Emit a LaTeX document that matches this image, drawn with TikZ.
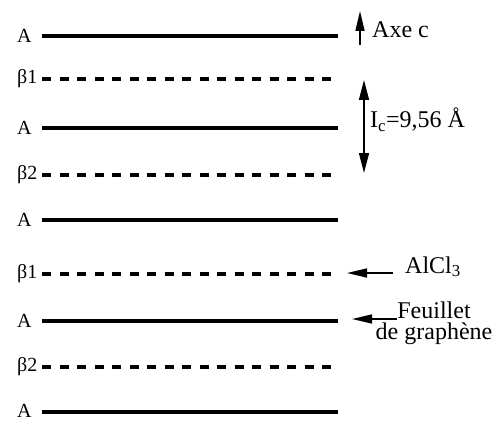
\documentclass[tikz,border=0pt]{standalone}
\usepackage{fontspec}
\setmainfont{Liberation Serif}
\usetikzlibrary{arrows.meta}

\tikzset{
  lab/.style={inner sep=0pt,font=\fontsize{20}{22}\selectfont},
  leg/.style={inner sep=0pt,font=\fontsize{24}{21}\selectfont},
  plein/.style={line width=3.6pt},
  tiret/.style={line width=3.2pt,dash pattern=on 9pt off 8.5pt},
  fl/.style={-{Triangle[length=20pt,width=9pt]},line width=1.6pt},
  dfl/.style={{Triangle[length=20pt,width=10pt]}-{Triangle[length=20pt,width=10pt]},line width=1.6pt},
}

\begin{document}
\begin{tikzpicture}[x=1pt,y=-1pt]
\useasboundingbox (0,0) rectangle (502,422);
% couches
\node[lab,anchor=west] (n0) at (17,36) {A};
\node[lab,anchor=west] (n1) at (17,79) {β1};
\node[lab,anchor=west] (n2) at (17,128) {A};
\node[lab,anchor=west] (n3) at (17,175) {β2};
\node[lab,anchor=west] (n4) at (17,220) {A};
\node[lab,anchor=west] (n5) at (17,274) {β1};
\node[lab,anchor=west] (n6) at (17,321) {A};
\node[lab,anchor=west] (n7) at (17,367) {β2};
\node[lab,anchor=west] (n8) at (17,411) {A};
\coordinate (g0) at (42,36);  \coordinate (d0) at (338,36);
\coordinate (g1) at (42,79);  \coordinate (d1) at (338,79);
\coordinate (g2) at (42,128); \coordinate (d2) at (338,128);
\coordinate (g3) at (42,175); \coordinate (d3) at (338,175);
\coordinate (g4) at (42,220); \coordinate (d4) at (338,220);
\coordinate (g5) at (42,274); \coordinate (d5) at (338,274);
\coordinate (g6) at (42,321); \coordinate (d6) at (338,321);
\coordinate (g7) at (42,367); \coordinate (d7) at (338,367);
\coordinate (g8) at (42,412); \coordinate (d8) at (338,412);
\draw[plein] (g0) -- (d0);
\draw[tiret] (g1) -- (d1);
\draw[plein] (g2) -- (d2);
\draw[tiret] (g3) -- (d3);
\draw[plein] (g4) -- (d4);
\draw[tiret] (g5) -- (d5);
\draw[plein] (g6) -- (d6);
\draw[tiret] (g7) -- (d7);
\draw[plein] (g8) -- (d8);
% legendes
\node[leg,anchor=base west] (axe) at (372,38) {Axe c};
\node[leg,anchor=base west] (ic) at (370,128) {I\textsubscript{c}=9,56 Å};
\node[leg,anchor=base west,inner xsep=12pt] (alcl) at (393,273) {AlCl\textsubscript{3}};
\node[leg,anchor=north,align=center] (feuil) at (434,302) {Feuillet\\de graphène};
\coordinate (axebas) at (360,45);  \coordinate (axehaut) at (360,11);
\coordinate (ichaut) at (364,80);  \coordinate (icbas) at (364,173);
\coordinate (alclpt) at (347,273);
\coordinate (feuilqueue) at (397,319); \coordinate (feuilpt) at (352,319);
\draw[fl] (axebas) -- (axehaut);
\draw[dfl] (ichaut) -- (icbas);
\draw[fl] (alcl.base west) -- (alclpt);
\draw[fl] (feuilqueue) -- (feuilpt);
\end{tikzpicture}
\end{document}
